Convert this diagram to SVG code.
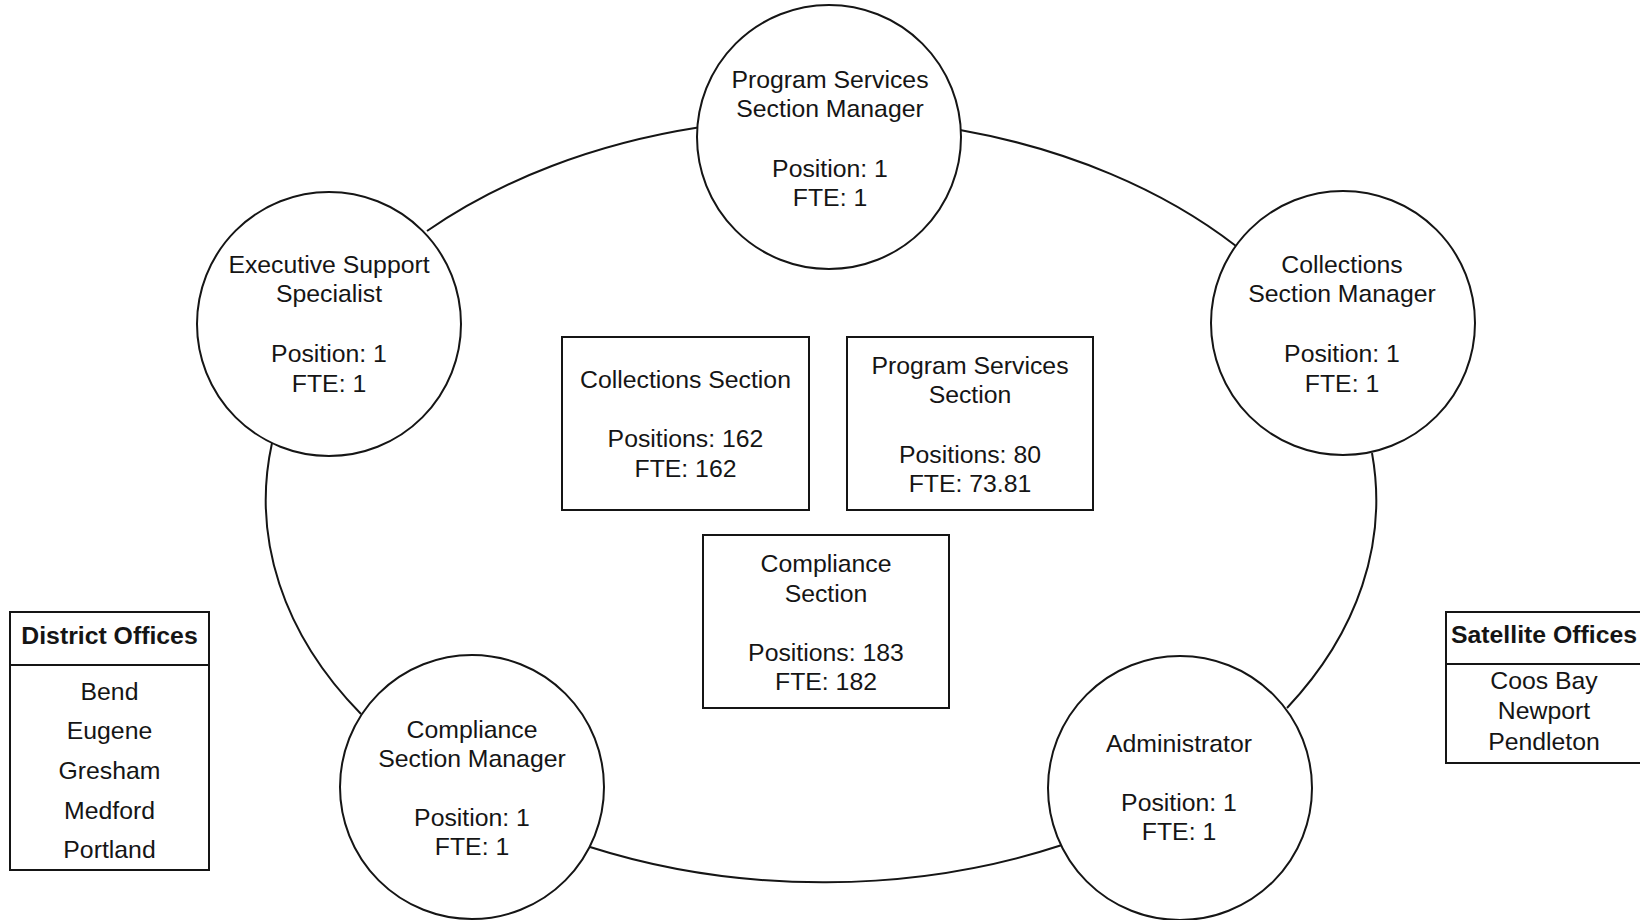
<svg xmlns="http://www.w3.org/2000/svg" width="1640" height="920" viewBox="0 0 1640 920">
<style>
  .bg { fill: #ffffff; }
  .conn { fill: none; stroke: #151515; stroke-width: 2; }
  .node { fill: #ffffff; stroke: #151515; stroke-width: 2; }
  .t { font-family: "Liberation Sans", Arial, sans-serif; font-size: 24.8px; fill: #151515; text-anchor: middle; }
  .h { font-family: "Liberation Sans", Arial, sans-serif; font-size: 24.8px; font-weight: bold; fill: #151515; text-anchor: middle; }
</style>
<rect class="bg" x="0" y="0" width="1640" height="920"/>

<g id="connectors">
  <path class="conn" d="M 427 231 A 555 382 0 0 1 698 127.5"/>
  <path class="conn" d="M 960 130 A 555 382 0 0 1 1236 246"/>
  <path class="conn" d="M 1372 453 A 555 382 0 0 1 1287 708"/>
  <path class="conn" d="M 1062 845 A 555 382 0 0 1 590 847"/>
  <path class="conn" d="M 361 714 A 555 382 0 0 1 272 443"/>
</g>

<g id="program-services-manager">
  <circle class="node" cx="829" cy="137" r="132"/>
  <text class="t" x="830" y="88">Program Services</text>
  <text class="t" x="830" y="117">Section Manager</text>
  <text class="t" x="830" y="177">Position: 1</text>
  <text class="t" x="830" y="206">FTE: 1</text>
</g>

<g id="executive-support-specialist">
  <circle class="node" cx="329" cy="324" r="132"/>
  <text class="t" x="329" y="273">Executive Support</text>
  <text class="t" x="329" y="302">Specialist</text>
  <text class="t" x="329" y="362">Position: 1</text>
  <text class="t" x="329" y="392">FTE: 1</text>
</g>

<g id="collections-manager">
  <circle class="node" cx="1343" cy="323" r="132"/>
  <text class="t" x="1342" y="273">Collections</text>
  <text class="t" x="1342" y="302">Section Manager</text>
  <text class="t" x="1342" y="362">Position: 1</text>
  <text class="t" x="1342" y="392">FTE: 1</text>
</g>

<g id="compliance-manager">
  <circle class="node" cx="472" cy="787" r="132"/>
  <text class="t" x="472" y="738">Compliance</text>
  <text class="t" x="472" y="767">Section Manager</text>
  <text class="t" x="472" y="826">Position: 1</text>
  <text class="t" x="472" y="855">FTE: 1</text>
</g>

<g id="administrator">
  <circle class="node" cx="1180" cy="788" r="132"/>
  <text class="t" x="1179" y="752">Administrator</text>
  <text class="t" x="1179" y="811">Position: 1</text>
  <text class="t" x="1179" y="840">FTE: 1</text>
</g>

<g id="collections-section">
  <rect class="node" x="562" y="337" width="247" height="173"/>
  <text class="t" x="685.5" y="388">Collections Section</text>
  <text class="t" x="685.5" y="447">Positions: 162</text>
  <text class="t" x="685.5" y="477">FTE: 162</text>
</g>

<g id="program-services-section">
  <rect class="node" x="847" y="337" width="246" height="173"/>
  <text class="t" x="970" y="374">Program Services</text>
  <text class="t" x="970" y="403">Section</text>
  <text class="t" x="970" y="463">Positions: 80</text>
  <text class="t" x="970" y="492">FTE: 73.81</text>
</g>

<g id="compliance-section">
  <rect class="node" x="703" y="535" width="246" height="173"/>
  <text class="t" x="826" y="572">Compliance</text>
  <text class="t" x="826" y="602">Section</text>
  <text class="t" x="826" y="661">Positions: 183</text>
  <text class="t" x="826" y="690">FTE: 182</text>
</g>

<g id="district-offices">
  <rect class="node" x="10" y="612" width="199" height="258"/>
  <line class="conn" x1="10" y1="665" x2="209" y2="665"/>
  <text class="h" x="109.5" y="644">District Offices</text>
  <text class="t" x="109.5" y="700">Bend</text>
  <text class="t" x="109.5" y="739">Eugene</text>
  <text class="t" x="109.5" y="779">Gresham</text>
  <text class="t" x="109.5" y="819">Medford</text>
  <text class="t" x="109.5" y="858">Portland</text>
</g>

<g id="satellite-offices">
  <rect class="node" x="1446" y="612" width="197" height="151"/>
  <line class="conn" x1="1446" y1="664" x2="1643" y2="664"/>
  <text class="h" x="1544" y="643">Satellite Offices</text>
  <text class="t" x="1544" y="689">Coos Bay</text>
  <text class="t" x="1544" y="719">Newport</text>
  <text class="t" x="1544" y="750">Pendleton</text>
</g>
</svg>
